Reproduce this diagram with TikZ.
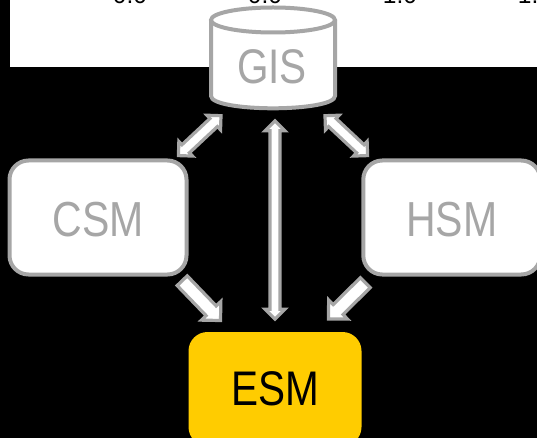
\documentclass[tikz,border=0pt]{standalone}
\usepackage{fontspec}
\setmainfont{Liberation Sans}
\usetikzlibrary{calc}
\definecolor{linegray}{HTML}{A6A6A6}
\definecolor{esmyellow}{HTML}{FFCC00}
\newcommand{\bigtext}[1]{\fontsize{40.5}{40.5}\selectfont\scalebox{1}[1.2]{#1}}
\newcommand{\lowtext}[1]{\raisebox{0pt}[\dimexpr\height+5pt\relax][\depth]{\fontsize{41}{41}\selectfont\scalebox{1}[1.2]{#1}}}
\tikzset{
  modelbox/.style={draw=linegray,line width=4pt,fill=white,rounded corners=19pt,minimum width=177pt,minimum height=114pt,inner sep=0pt,text=linegray},
  esmbox/.style={fill=esmyellow,rounded corners=19pt,minimum width=173pt,minimum height=114pt,inner sep=0pt,text=black},
  blockline/.style={draw=linegray,fill=white,line width=3.2pt,miter limit=10,line join=miter},
  clipnum/.style={anchor=base,text=black,font=\fontsize{24.5}{24.5}\selectfont,inner sep=0pt},
}
% #1,#2 named ends, #3 shaft half width, #4 head half width and length
\newcommand{\doublearrow}[4]{%
  \path[blockline]
    (#1)
    -- ($($(#1)!#4!(#2)$)!#4!90:(#2)$)
    -- ($($(#1)!#4!(#2)$)!#3!90:(#2)$)
    -- ($($(#2)!#4!(#1)$)!#3!-90:(#1)$)
    -- ($($(#2)!#4!(#1)$)!#4!-90:(#1)$)
    -- (#2)
    -- ($($(#2)!#4!(#1)$)!#4!90:(#1)$)
    -- ($($(#2)!#4!(#1)$)!#3!90:(#1)$)
    -- ($($(#1)!#4!(#2)$)!#3!-90:(#2)$)
    -- ($($(#1)!#4!(#2)$)!#4!-90:(#2)$)
    -- cycle;}
\newcommand{\singlearrow}[4]{%
  \path[blockline]
    ($(#1)!#3!90:(#2)$)
    -- ($($(#2)!#4!(#1)$)!#3!-90:(#1)$)
    -- ($($(#2)!#4!(#1)$)!#4!-90:(#1)$)
    -- (#2)
    -- ($($(#2)!#4!(#1)$)!#4!90:(#1)$)
    -- ($($(#2)!#4!(#1)$)!#3!90:(#1)$)
    -- ($(#1)!#3!-90:(#2)$)
    -- cycle;}
\begin{document}
\begin{tikzpicture}[x=1pt,y=-1pt]
\useasboundingbox (0,0) rectangle (537,438);
\fill[black] (0,0) rectangle (537,438);
\begin{scope}
  \clip (0,0) rectangle (537,438);
  \fill[white] (10,0) rectangle (537,67);
  \node[clipnum] (n1) at (130,3.5) {0.0};
  \node[clipnum] (n2) at (265,3.5) {0.0};
  \node[clipnum] (n3) at (400,3.5) {1.0};
  \node[clipnum] (n4) at (535,3.5) {1.0};
  % GIS cylinder
  \draw[draw=linegray,fill=white,line width=4pt]
    (211,20) -- (211,96) .. controls (211,104) and (242,108.3) .. (273,108.3)
    .. controls (304,108.3) and (335,104) .. (335,96) -- (335,20);
  \draw[draw=linegray,fill=white,line width=4pt] (273,20) ellipse [x radius=62,y radius=12.5];
  \node[text=linegray,inner sep=0pt] (gis) at (272,67) {\bigtext{GIS}};
  \node[modelbox] (csm) at (98,217.5) {\lowtext{CSM}};
  \node[modelbox] (hsm) at (451.8,217.5) {\lowtext{HSM}};
  \node[esmbox] (esm) at (275,389) {\bigtext{ESM}};
\end{scope}
\coordinate (gisL) at (221,115.7);
\coordinate (csmT) at (178.4,155.6);
\coordinate (gisR) at (325,115.7);
\coordinate (hsmT) at (367.6,155.6);
\coordinate (gisB) at (275,120.8);
\coordinate (esmT) at (275,319.2);
\coordinate (csmB) at (182.2,280.7);
\coordinate (esmL) at (220.5,320.5);
\coordinate (hsmB) at (365.3,282.7);
\coordinate (esmR) at (328.5,319);
\doublearrow{gisL}{csmT}{5.5pt}{10pt}
\doublearrow{gisR}{hsmT}{5.5pt}{10pt}
\doublearrow{gisB}{esmT}{5pt}{10pt}
\singlearrow{csmB}{esmL}{7pt}{13.5pt}
\singlearrow{hsmB}{esmR}{7pt}{13.5pt}
\end{tikzpicture}
\end{document}
